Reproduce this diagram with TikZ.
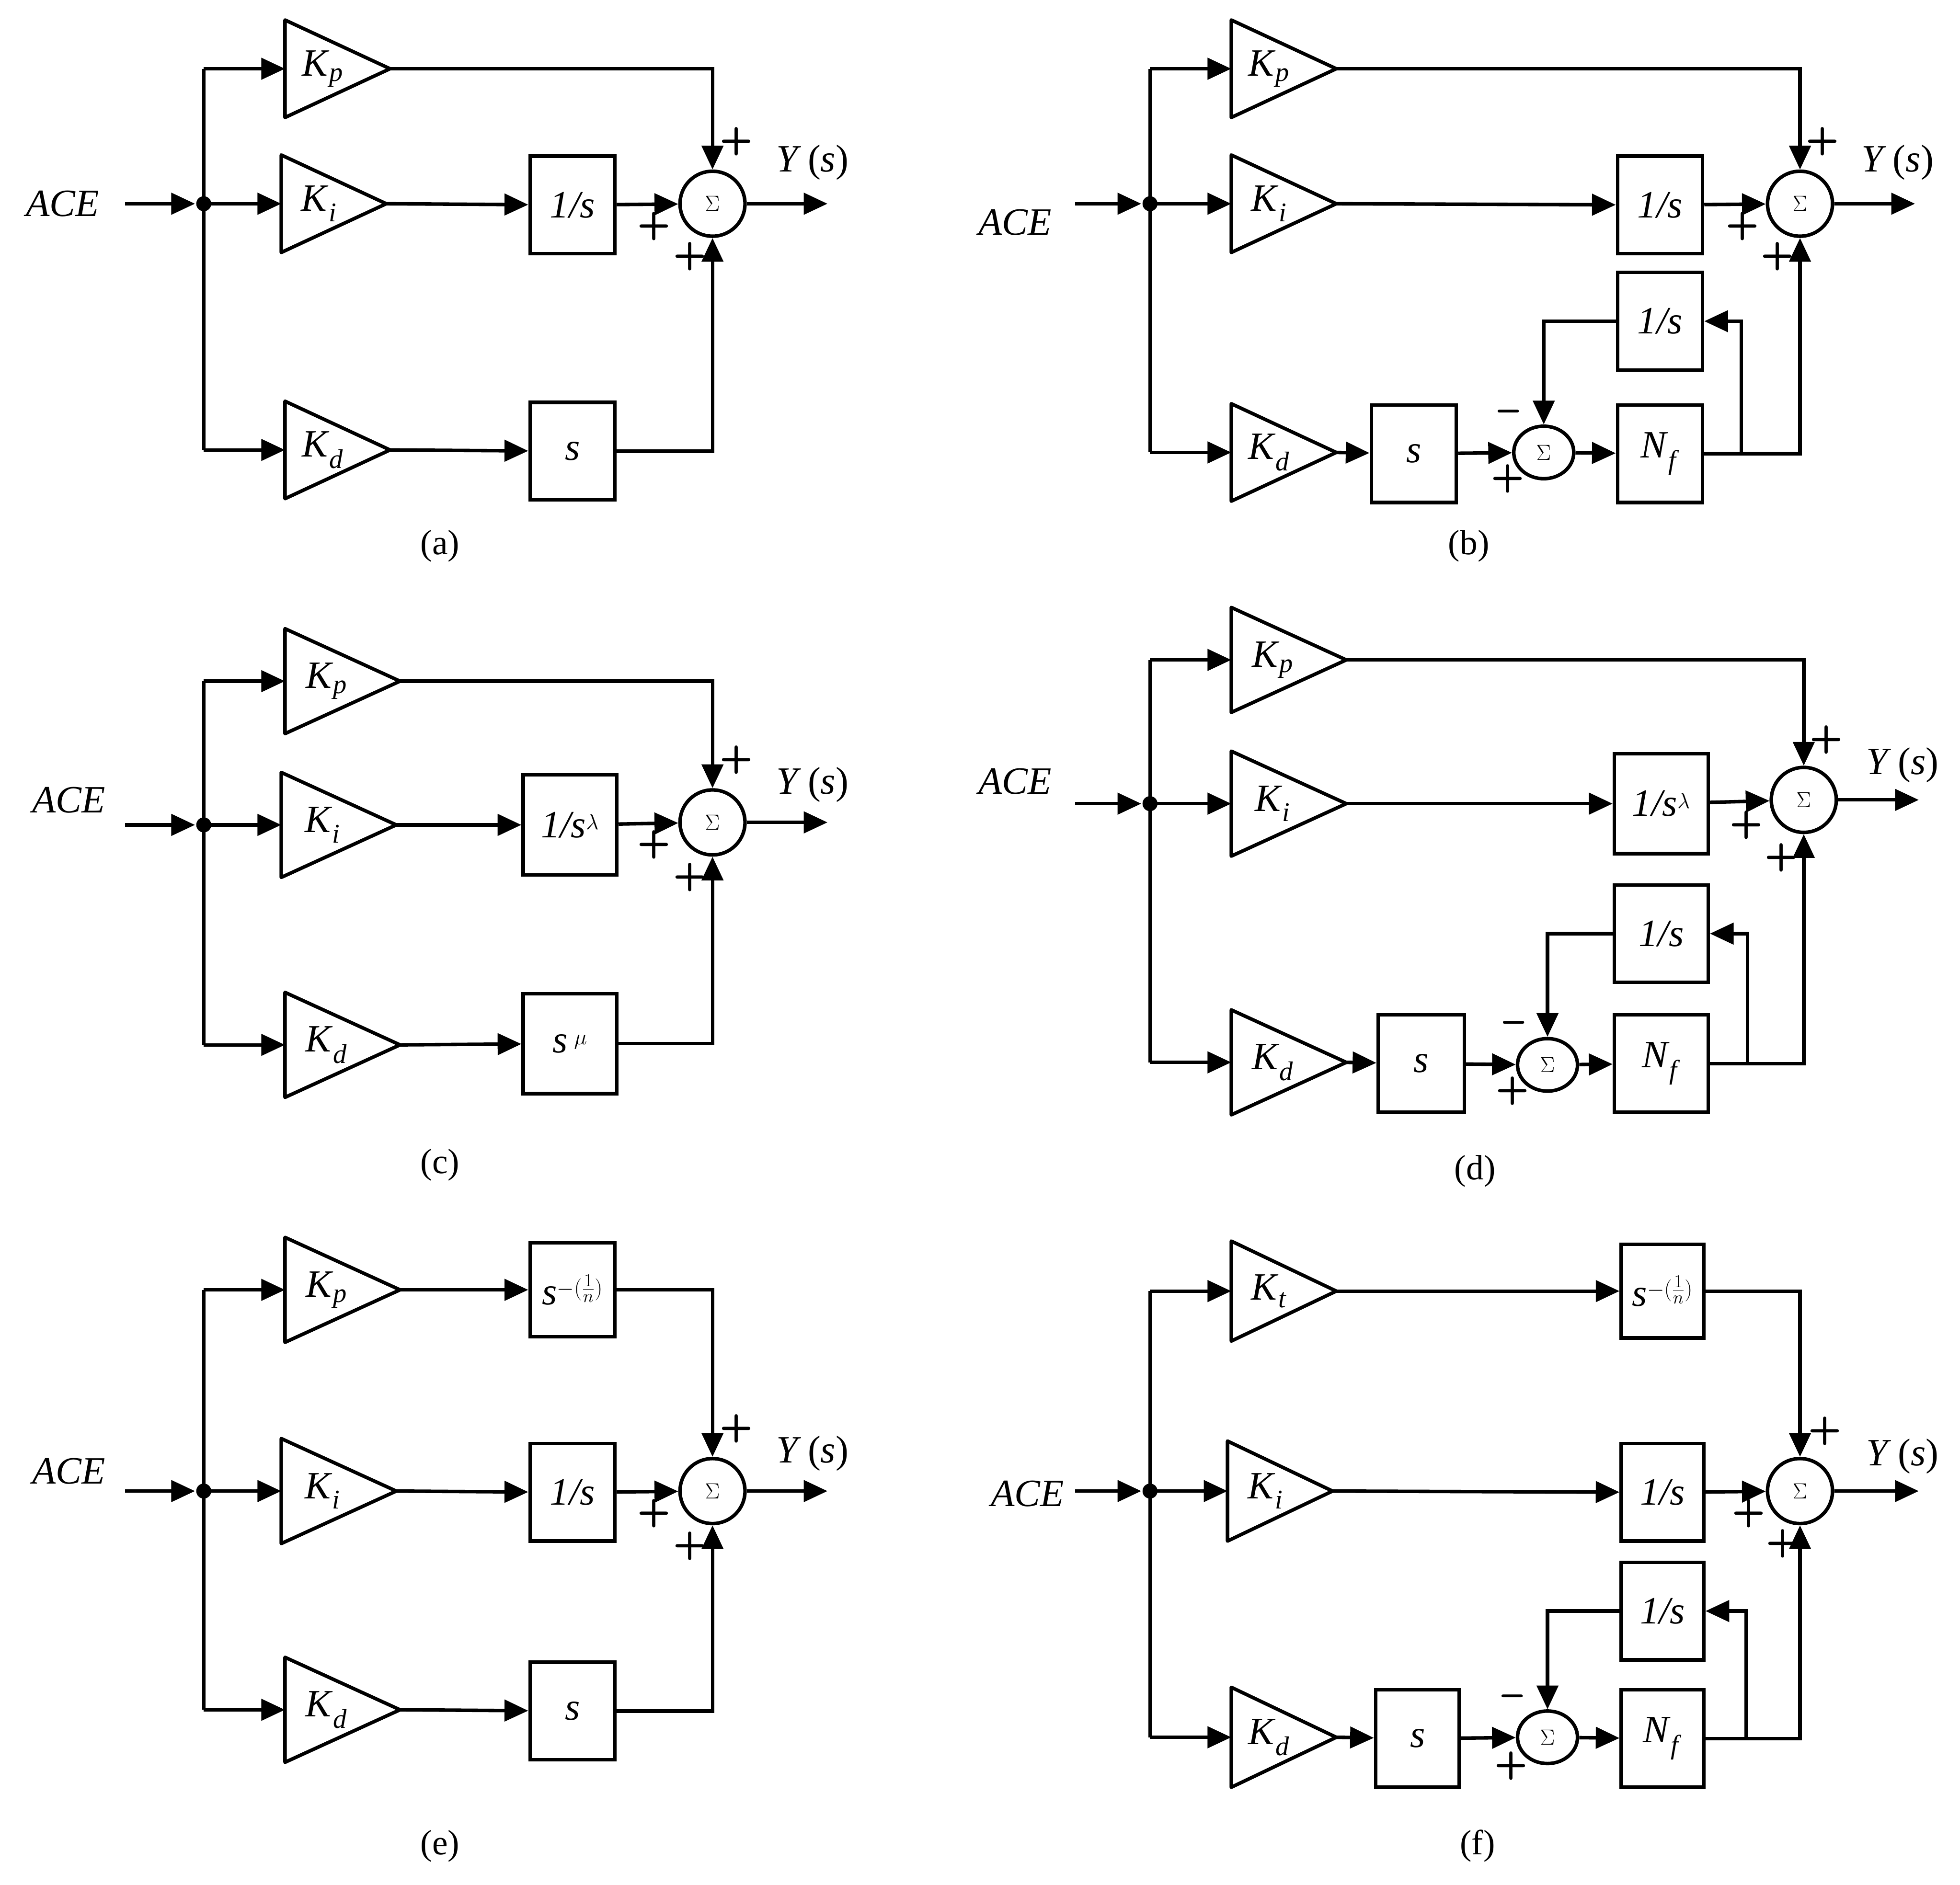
\documentclass[tikz,border=0pt]{standalone}
\usepackage{fontspec}
\setmainfont{Liberation Serif}
\usetikzlibrary{arrows.meta,shapes.geometric}
\newcommand\Kk[1]{\textit{K}\textsubscript{\textit{#1}}}
\newcommand\gain[6]{% name, x, y, width, label, halfheight
 \draw[blk] (#2,#3-#6)--(#2+#4,#3)--(#2,#3+#6)--cycle;
 \coordinate (#1i) at (#2,#3); \coordinate (#1o) at (#2+#4,#3);
 \node[lbl] (#1) at (#2+#4*0.36,#3) {#5};}
\begin{document}
\begin{tikzpicture}[x=0.05cm,y=-0.05cm,
 blk/.style={line width=4pt,line join=round},
 ln/.style={line width=4pt},
 arr/.style={line width=4pt,-{Triangle[length=0.95cm,width=0.85cm]}},
 lbl/.style={font=\fontsize{44}{50}\selectfont,inner sep=0pt},
 captxt/.style={font=\fontsize{40}{48}\selectfont},
 box/.style={draw,line width=4pt,font=\fontsize{44}{50}\selectfont,inner sep=0pt},
 sum/.style={draw,circle,line width=4pt,minimum size=2.6cm,inner sep=0pt,font=\fontsize{44}{50}\selectfont},
 ssum/.style={draw,ellipse,line width=4pt,minimum width=2.4cm,minimum height=2.1cm,inner sep=0pt,font=\fontsize{40}{48}\selectfont},
 pl/.style={font=\fontsize{44}{50}\selectfont\sffamily\bfseries,inner sep=0pt}]
\useasboundingbox (0,0) rectangle (1568,1508);
% ================= (a)
\node[lbl] (aACE) at (50,163) {\textit{ACE}};
\coordinate (aS) at (100,163); \coordinate (aJ) at (163,163);
\draw[arr,shorten >=0.35cm] (aS) -- (aJ); \fill (aJ) circle[radius=0.3cm];
\gain{aKp}{228}{55}{84}{\Kk{p}}{39}
\gain{aKi}{225}{163}{84}{\Kk{i}}{39}
\gain{aKd}{228}{360}{84}{\Kk{d}}{39}
\node[box,minimum width=3.4cm,minimum height=3.9cm] (aB1) at (458,164) {\textit{1/s}};
\node[box,minimum width=3.4cm,minimum height=3.9cm] (aB2) at (458,361) {\textit{s}};
\node[sum] (aSum) at (570,163) {$\Sigma$};
\coordinate (aY) at (662,163);
\draw[ln] (163,55) -- (163,360);
\draw[arr] (163,55) -- (aKpi); \draw[arr] (aJ) -- (aKii); \draw[arr] (163,360) -- (aKdi);
\draw[arr] (aKio) -- (aB1); \draw[arr] (aKdo) -- (aB2);
\draw[arr] (aKpo) -| (aSum.north); \draw[arr] (aB1) -- (aSum); \draw[arr] (aB2) -| (aSum.south);
\draw[arr] (aSum) -- (aY);
\node[lbl] (aYs) at (650,130) {\textit{Y}\,(\textit{s})};
\node[pl] at (589,113) {+}; \node[pl] at (523,181) {+}; \node[pl] at (552,205) {+};
\node[captxt] (acap) at (352,437) {(a)};
% ================= (b)
\node[lbl] (bACE) at (812,178) {\textit{ACE}};
\coordinate (bS) at (860,163); \coordinate (bJ) at (920,163);
\draw[arr,shorten >=0.35cm] (bS) -- (bJ); \fill (bJ) circle[radius=0.3cm];
\gain{bKp}{985}{55}{84}{\Kk{p}}{39}
\gain{bKi}{985}{163}{84}{\Kk{i}}{39}
\gain{bKd}{985}{362}{84}{\Kk{d}}{39}
\node[box,minimum width=3.4cm,minimum height=3.9cm] (bB1) at (1328,164) {\textit{1/s}};
\node[box,minimum width=3.4cm,minimum height=3.9cm] (bB2) at (1131,363) {\textit{s}};
\node[box,minimum width=3.4cm,minimum height=3.9cm] (bNf) at (1328,363) {\textit{N}\textsubscript{\textit{f}}};
\node[box,minimum width=3.4cm,minimum height=3.9cm] (bB3) at (1328,257) {\textit{1/s}};
\node[ssum] (bS2) at (1235,362) {$\Sigma$};
\node[sum] (bSum) at (1440,163) {$\Sigma$};
\coordinate (bY) at (1532,163); \coordinate (bT) at (1393,362);
\draw[ln] (920,55) -- (920,362);
\draw[arr] (920,55) -- (bKpi); \draw[arr] (bJ) -- (bKii); \draw[arr] (920,362) -- (bKdi);
\draw[arr] (bKio) -- (bB1); \draw[arr] (bKdo) -- (bB2); \draw[arr] (bB2) -- (bS2); \draw[arr] (bS2) -- (bNf);
\draw[arr] (bKpo) -| (bSum.north); \draw[arr] (bB1) -- (bSum); \draw[arr] (bNf) -| (bSum.south);
\draw[arr] (bT) |- (bB3.east); \draw[arr] (bB3.west) -| (bS2.north);
\draw[arr] (bSum) -- (bY);
\node[lbl] (bYs) at (1518,130) {\textit{Y}\,(\textit{s})};
\node[pl] at (1458,113) {+}; \node[pl] at (1394,181) {+}; \node[pl] at (1422,205) {+};
\node[pl] at (1207,333) {\textendash}; \node[pl] at (1206,383) {+};
\node[captxt] (bcap) at (1175,437) {(b)};
% ================= (c)
\node[lbl] (cACE) at (55,640) {\textit{ACE}};
\coordinate (cS) at (100,660); \coordinate (cJ) at (163,660);
\draw[arr,shorten >=0.35cm] (cS) -- (cJ); \fill (cJ) circle[radius=0.3cm];
\gain{cKp}{228}{545}{92}{\Kk{p}}{42}
\gain{cKi}{225}{660}{92}{\Kk{i}}{42}
\gain{cKd}{228}{836}{92}{\Kk{d}}{42}
\node[box,minimum width=3.75cm,minimum height=4cm] (cB1) at (456,660) {\textit{1/s}$^{\lambda}$};
\node[box,minimum width=3.75cm,minimum height=4cm] (cB2) at (456,835) {\textit{s}\,$^{\mu}$};
\node[sum] (cSum) at (570,658) {$\Sigma$};
\coordinate (cY) at (662,658);
\draw[ln] (163,545) -- (163,836);
\draw[arr] (163,545) -- (cKpi); \draw[arr] (cJ) -- (cKii); \draw[arr] (163,836) -- (cKdi);
\draw[arr] (cKio) -- (cB1); \draw[arr] (cKdo) -- (cB2);
\draw[arr] (cKpo) -| (cSum.north); \draw[arr] (cB1) -- (cSum); \draw[arr] (cB2) -| (cSum.south);
\draw[arr] (cSum) -- (cY);
\node[lbl] (cYs) at (650,628) {\textit{Y}\,(\textit{s})};
\node[pl] at (589,608) {+}; \node[pl] at (523,676) {+}; \node[pl] at (552,702) {+};
\node[captxt] (ccap) at (352,932) {(c)};
% ================= (d)
\node[lbl] (dACE) at (812,625) {\textit{ACE}};
\coordinate (dS) at (860,643); \coordinate (dJ) at (920,643);
\draw[arr,shorten >=0.35cm] (dS) -- (dJ); \fill (dJ) circle[radius=0.3cm];
\gain{dKp}{985}{528}{92}{\Kk{p}}{42}
\gain{dKi}{985}{643}{92}{\Kk{i}}{42}
\gain{dKd}{985}{850}{92}{\Kk{d}}{42}
\node[box,minimum width=3.75cm,minimum height=4cm] (dB1) at (1329,643) {\textit{1/s}$^{\lambda}$};
\node[box,minimum width=3.45cm,minimum height=3.9cm] (dB2) at (1137,851) {\textit{s}};
\node[box,minimum width=3.75cm,minimum height=3.9cm] (dNf) at (1329,851) {\textit{N}\textsubscript{\textit{f}}};
\node[box,minimum width=3.75cm,minimum height=3.9cm] (dB3) at (1329,747) {\textit{1/s}};
\node[ssum] (dS2) at (1238,852) {$\Sigma$};
\node[sum] (dSum) at (1443,640) {$\Sigma$};
\coordinate (dY) at (1535,640); \coordinate (dT) at (1398,852);
\draw[ln] (920,528) -- (920,850);
\draw[arr] (920,528) -- (dKpi); \draw[arr] (dJ) -- (dKii); \draw[arr] (920,850) -- (dKdi);
\draw[arr] (dKio) -- (dB1); \draw[arr] (dKdo) -- (dB2); \draw[arr] (dB2) -- (dS2); \draw[arr] (dS2) -- (dNf);
\draw[arr] (dKpo) -| (dSum.north); \draw[arr] (dB1) -- (dSum); \draw[arr] (dNf) -| (dSum.south);
\draw[arr] (dT) |- (dB3.east); \draw[arr] (dB3.west) -| (dS2.north);
\draw[arr] (dSum) -- (dY);
\node[lbl] (dYs) at (1522,612) {\textit{Y}\,(\textit{s})};
\node[pl] at (1461,592) {+}; \node[pl] at (1397,660) {+}; \node[pl] at (1425,686) {+};
\node[pl] at (1211,822) {\textendash}; \node[pl] at (1210,873) {+};
\node[captxt] (dcap) at (1180,937) {(d)};
% ================= (e)
\node[lbl] (eACE) at (55,1177) {\textit{ACE}};
\coordinate (eS) at (100,1193); \coordinate (eJ) at (163,1193);
\draw[arr,shorten >=0.35cm] (eS) -- (eJ); \fill (eJ) circle[radius=0.3cm];
\gain{eKp}{228}{1032}{92}{\Kk{p}}{42}
\gain{eKi}{225}{1193}{92}{\Kk{i}}{42}
\gain{eKd}{228}{1368}{92}{\Kk{d}}{42}
\node[box,minimum width=3.4cm,minimum height=3.75cm] (eB0) at (458,1032) {\textit{s}$^{-(\frac{1}{n})}$};
\node[box,minimum width=3.4cm,minimum height=3.9cm] (eB1) at (458,1194) {\textit{1/s}};
\node[box,minimum width=3.4cm,minimum height=3.9cm] (eB2) at (458,1369) {\textit{s}};
\node[sum] (eSum) at (570,1193) {$\Sigma$};
\coordinate (eY) at (662,1193);
\draw[ln] (163,1032) -- (163,1368);
\draw[arr] (163,1032) -- (eKpi); \draw[arr] (eJ) -- (eKii); \draw[arr] (163,1368) -- (eKdi);
\draw[arr] (eKpo) -- (eB0); \draw[arr] (eKio) -- (eB1); \draw[arr] (eKdo) -- (eB2);
\draw[arr] (eB0) -| (eSum.north); \draw[arr] (eB1) -- (eSum); \draw[arr] (eB2) -| (eSum.south);
\draw[arr] (eSum) -- (eY);
\node[lbl] (eYs) at (650,1163) {\textit{Y}\,(\textit{s})};
\node[pl] at (589,1143) {+}; \node[pl] at (523,1211) {+}; \node[pl] at (552,1237) {+};
\node[captxt] (ecap) at (352,1477) {(e)};
% ================= (f)
\node[lbl] (fACE) at (822,1195) {\textit{ACE}};
\coordinate (fS) at (860,1193); \coordinate (fJ) at (920,1193);
\draw[arr,shorten >=0.35cm] (fS) -- (fJ); \fill (fJ) circle[radius=0.3cm];
\gain{fKt}{985}{1033}{84}{\Kk{t}}{40}
\gain{fKi}{982}{1193}{84}{\Kk{i}}{40}
\gain{fKd}{985}{1390}{84}{\Kk{d}}{40}
\node[box,minimum width=3.3cm,minimum height=3.75cm] (fB0) at (1330,1033) {\textit{s}$^{-(\frac{1}{n})}$};
\node[box,minimum width=3.3cm,minimum height=3.9cm] (fB1) at (1330,1194) {\textit{1/s}};
\node[box,minimum width=3.3cm,minimum height=3.9cm] (fB3) at (1330,1289) {\textit{1/s}};
\node[box,minimum width=3.35cm,minimum height=3.9cm] (fB2) at (1134,1391) {\textit{s}};
\node[box,minimum width=3.3cm,minimum height=3.9cm] (fNf) at (1330,1391) {\textit{N}\textsubscript{\textit{f}}};
\node[ssum] (fS2) at (1238,1390) {$\Sigma$};
\node[sum] (fSum) at (1440,1193) {$\Sigma$};
\coordinate (fY) at (1535,1193); \coordinate (fT) at (1397,1390);
\draw[ln] (920,1033) -- (920,1390);
\draw[arr] (920,1033) -- (fKti); \draw[arr] (fJ) -- (fKii); \draw[arr] (920,1390) -- (fKdi);
\draw[arr] (fKto) -- (fB0); \draw[arr] (fKio) -- (fB1); \draw[arr] (fKdo) -- (fB2); \draw[arr] (fB2) -- (fS2); \draw[arr] (fS2) -- (fNf);
\draw[arr] (fB0) -| (fSum.north); \draw[arr] (fB1) -- (fSum); \draw[arr] (fNf) -| (fSum.south);
\draw[arr] (fT) |- (fB3.east); \draw[arr] (fB3.west) -| (fS2.north);
\draw[arr] (fSum) -- (fY);
\node[lbl] (fYs) at (1522,1165) {\textit{Y}\,(\textit{s})};
\node[pl] at (1460,1145) {+}; \node[pl] at (1399,1211) {+}; \node[pl] at (1426,1235) {+};
\node[pl] at (1210,1361) {\textendash}; \node[pl] at (1209,1413) {+};
\node[captxt] (fcap) at (1182,1477) {(f)};
\end{tikzpicture}
\end{document}
